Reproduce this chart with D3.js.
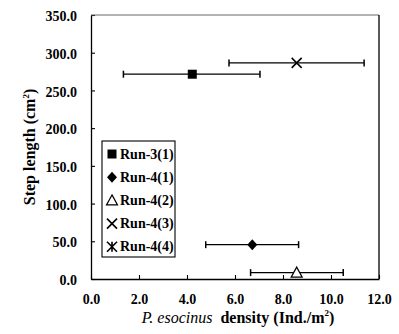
<!DOCTYPE html>
<html>
<head>
<meta charset="utf-8">
<script src="https://cdn.jsdelivr.net/npm/d3@7"></script>
<style>
  body { margin: 0; background: #fff; }
  svg { font-family: "Liberation Serif", "Times New Roman", serif; }
</style>
</head>
<body>
<div id="chart"></div>
<script>
// Series
const runs = ["Run-3(1)", "Run-4(1)", "Run-4(2)", "Run-4(3)", "Run-4(4)"];
const symbols = ["square", "diamond", "triangle", "cross", "star"];
const density = [4.22, 6.72, 8.57, 8.57, null];
const densityLow = [1.35, 4.78, 6.65, 5.75, null];
const densityHigh = [7.04, 8.65, 10.51, 11.38, null];
const stepLength = [271.5, 45.5, 8.5, 286.5, null];

const xTicks = [0, 2, 4, 6, 8, 10, 12];
const yTicks = [0, 50, 100, 150, 200, 250, 300, 350];

const W = 399, H = 334;
const margin = { top: 15, right: 20, bottom: 55, left: 91 };
const width = W - margin.left - margin.right,
  height = H - margin.top - margin.bottom;

const serif = '"Liberation Serif", "Times New Roman", serif';

const svg = d3
  .select("#chart")
  .append("svg")
  .attr("width", W)
  .attr("height", H);

const g = svg.append("g").attr("transform", `translate(${margin.left},${margin.top})`);

const x = d3.scaleLinear().domain([0, 12]).range([0, width]);
const y = d3.scaleLinear().domain([0, 350]).range([height, 0]);

// axes, ticks pointing inwards
const xAxis = g
  .append("g")
  .attr("transform", `translate(0,${height})`)
  .call(d3.axisBottom(x).tickValues(xTicks).tickFormat(d3.format(".1f")).tickSizeInner(-4).tickSizeOuter(0));
xAxis.selectAll("text").attr("y", 15);

const yAxis = g
  .append("g")
  .call(d3.axisLeft(y).tickValues(yTicks).tickFormat(d3.format(".1f")).tickSizeInner(-4).tickSizeOuter(0));
yAxis.selectAll("text").attr("x", -14).attr("dy", "0.4em");

[xAxis, yAxis].forEach((a) => {
  a.attr("font-family", serif).attr("font-size", 14).attr("font-weight", "bold");
  a.selectAll("text").attr("fill", "#000");
});

g.selectAll(".domain").attr("stroke", "#000").attr("stroke-width", 1.3);
g.selectAll(".tick line").attr("stroke", "#000").attr("stroke-width", 1.1);

// top and right border of the frame
g.append("line")
  .attr("x1", 0).attr("x2", width)
  .attr("y1", 0).attr("y2", 0)
  .attr("stroke", "#666").attr("stroke-width", 1);
g.append("line")
  .attr("x1", width).attr("x2", width)
  .attr("y1", 0).attr("y2", height)
  .attr("stroke", "#000").attr("stroke-width", 1.3);

// marker shapes
const drawMarker = (sel, type, cx, cy) => {
  if (type === "square") {
    sel.append("rect").attr("x", cx - 4.5).attr("y", cy - 4.5).attr("width", 9).attr("height", 9).attr("fill", "#000");
  } else if (type === "diamond") {
    sel.append("path").attr("d", `M${cx},${cy - 5.5}L${cx + 5},${cy}L${cx},${cy + 5.5}L${cx - 5},${cy}Z`).attr("fill", "#000");
  } else if (type === "triangle") {
    sel.append("path").attr("d", `M${cx},${cy - 5.5}L${cx + 5.5},${cy + 4.5}L${cx - 5.5},${cy + 4.5}Z`)
      .attr("fill", "#fff").attr("stroke", "#000").attr("stroke-width", 1.2);
  } else if (type === "cross") {
    sel.append("path").attr("d", `M${cx - 5},${cy - 5}L${cx + 5},${cy + 5}M${cx - 5},${cy + 5}L${cx + 5},${cy - 5}`)
      .attr("stroke", "#000").attr("stroke-width", 1.6);
  } else if (type === "star") {
    sel.append("path").attr("d", `M${cx - 5},${cy - 5}L${cx + 5},${cy + 5}M${cx - 5},${cy + 5}L${cx + 5},${cy - 5}M${cx},${cy - 5}L${cx},${cy + 5}`)
      .attr("stroke", "#000").attr("stroke-width", 1.6);
  }
};

// error bars and points
const pts = runs.map((r, i) => ({ i })).filter((d) => density[d.i] !== null);

pts.forEach((d) => {
  const cy = y(stepLength[d.i]);
  const bar = g.append("g");
  bar.append("line")
    .attr("x1", x(densityLow[d.i])).attr("x2", x(densityHigh[d.i]))
    .attr("y1", cy).attr("y2", cy)
    .attr("stroke", "#000").attr("stroke-width", 1.3);
  [densityLow[d.i], densityHigh[d.i]].forEach((v) => {
    bar.append("line")
      .attr("x1", x(v)).attr("x2", x(v))
      .attr("y1", cy - 3.5).attr("y2", cy + 3.5)
      .attr("stroke", "#000").attr("stroke-width", 1.5);
  });
  drawMarker(bar, symbols[d.i], x(density[d.i]), cy);
});

// legend
const legend = svg.append("g").attr("transform", "translate(102,141)");
legend.append("rect")
  .attr("width", 73).attr("height", 116)
  .attr("fill", "#fff").attr("stroke", "#000").attr("stroke-width", 1.1);
runs.forEach((r, i) => {
  const ly = 13 + i * 23.2;
  drawMarker(legend, symbols[i], 10, ly);
  legend.append("text")
    .attr("x", 18).attr("y", ly + 4.5)
    .attr("font-weight", "bold").attr("font-size", 14)
    .text(r);
});

// axis titles
const yt = svg.append("text")
  .attr("transform", `translate(35,${margin.top + height / 2}) rotate(-90)`)
  .attr("text-anchor", "middle")
  .attr("font-weight", "bold").attr("font-size", 16);
yt.append("tspan").text("Step length (cm");
yt.append("tspan").attr("font-size", 9).attr("dy", -6).text("2");
yt.append("tspan").attr("dy", 6).text(")");

const xt = svg.append("text")
  .attr("x", margin.left + width / 2 + 3)
  .attr("y", 323)
  .attr("text-anchor", "middle")
  .attr("font-size", 16);
xt.append("tspan").attr("font-style", "italic").text("P. esocinus");
xt.append("tspan").attr("font-weight", "bold").text("\u00a0 density (Ind./m");
xt.append("tspan").attr("font-weight", "bold").attr("font-size", 9).attr("dy", -7).text("2");
xt.append("tspan").attr("font-weight", "bold").attr("dy", 7).text(")");
</script>
</body>
</html>
